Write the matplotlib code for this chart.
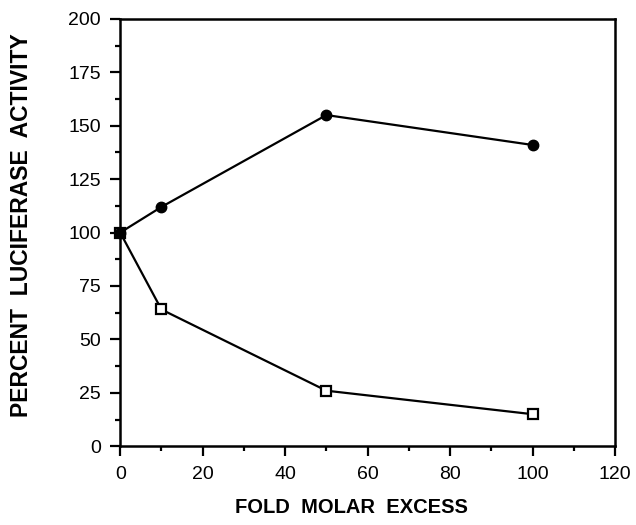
import matplotlib
matplotlib.use('Agg')
from matplotlib import pyplot as plt
from matplotlib.ticker import MultipleLocator

# Data
excess = [0, 10, 50, 100]
filled_activity = [100, 112, 155, 141]
open_activity = [100, 64, 26, 15]

plt.rcParams['font.family'] = ['Liberation Sans', 'DejaVu Sans']

fig = plt.figure(figsize=(6.36, 5.25), dpi=100)
ax = fig.add_axes([0.189, 0.150, 0.778, 0.814])

ax.plot(excess, open_activity, '-s', color='black', lw=1.6, ms=6.5,
        mfc='white', mec='black', mew=1.6, clip_on=False, zorder=3)
ax.plot(excess, filled_activity, '-o', color='black', lw=1.6, ms=7.5,
        clip_on=False, zorder=4)

ax.set_xlim(0, 120)
ax.set_ylim(0, 200)
ax.xaxis.set_major_locator(MultipleLocator(20))
ax.xaxis.set_minor_locator(MultipleLocator(10))
ax.yaxis.set_major_locator(MultipleLocator(25))
ax.yaxis.set_minor_locator(MultipleLocator(12.5))
ax.tick_params(which='major', direction='out', length=7, width=1.6, labelsize=14, pad=7)
ax.tick_params(which='minor', direction='out', length=3.5, width=1.6)
for s in ax.spines.values():
    s.set_linewidth(1.8)

ax.set_xlabel('FOLD  MOLAR  EXCESS', fontsize=14.5, fontweight='bold')
ax.set_ylabel('PERCENT  LUCIFERASE  ACTIVITY', fontsize=16.5, fontweight='bold')
ax.xaxis.set_label_coords(0.467, -0.122)
ax.yaxis.set_label_coords(-0.176, 0.518)

fig.savefig('out.png', dpi=100)
